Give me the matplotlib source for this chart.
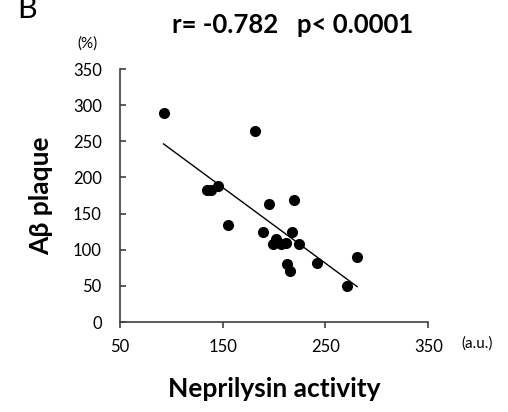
import numpy as np
import matplotlib.pyplot as plt

plt.rcParams['font.family'] = ['Lato', 'DejaVu Sans']

# Neprilysin activity (a.u.) vs Aβ plaque (%)
neprilysin = [92.5, 181.5, 134.4, 138.6, 145.1, 194.8, 219.2, 154.9, 189.0, 217.2,
              202.0, 199.4, 206.8, 211.7, 224.7, 212.7, 215.6, 241.6, 270.8, 280.8]
plaque = [288.5, 263.6, 183.3, 183.0, 188.4, 163.0, 169.4, 133.9, 124.7, 124.7,
          114.5, 108.5, 107.6, 109.4, 107.6, 80.8, 70.6, 82.2, 49.9, 90.0]

xticks = [50, 150, 250, 350]
yticks = [0, 50, 100, 150, 200, 250, 300, 350]

x = np.array(neprilysin)
y = np.array(plaque)
pendiente, corte = np.polyfit(x, y, 1)
x_linea = np.array([x.min(), x.max()])

fig = plt.figure(figsize=(5.08, 4.12), dpi=100)
ax = fig.add_axes([0.236, 0.2184, 0.607, 0.6141])

ax.plot(x_linea, pendiente * x_linea + corte, color='black', lw=1.0)
ax.plot(x, y, 'o', color='black', ms=8, mew=0)

ax.set_xlim(50, 350)
ax.set_ylim(0, 350)
ax.set_xticks(xticks)
ax.set_yticks(yticks)
for lado in ['top', 'right']:
    ax.spines[lado].set_visible(False)
for lado in ['left', 'bottom']:
    ax.spines[lado].set_color('#404040')
    ax.spines[lado].set_linewidth(1.2)
ax.tick_params(axis='x', direction='out', length=4, width=1.2, color='#404040',
               labelsize=12, pad=8)
ax.tick_params(axis='y', direction='in', length=4, width=1.2, color='#404040',
               labelsize=12, pad=13)

ax.set_xlabel('Neprilysin activity', fontsize=19, fontweight='bold', labelpad=16)
ax.set_ylabel('Aβ plaque', fontsize=19, fontweight='bold', labelpad=14)

fig.text(0.577, 0.92, 'r= -0.782   p< 0.0001', fontsize=18.5, fontweight='bold',
         ha='center', va='baseline')
fig.text(0.033, 0.956, 'B', fontsize=22, ha='left', va='baseline')
fig.text(0.173, 0.895, '(%)', fontsize=11, ha='center', va='center')
fig.text(0.939, 0.167, '(a.u.)', fontsize=11, ha='center', va='center')

fig.savefig('out.png', dpi=100)
